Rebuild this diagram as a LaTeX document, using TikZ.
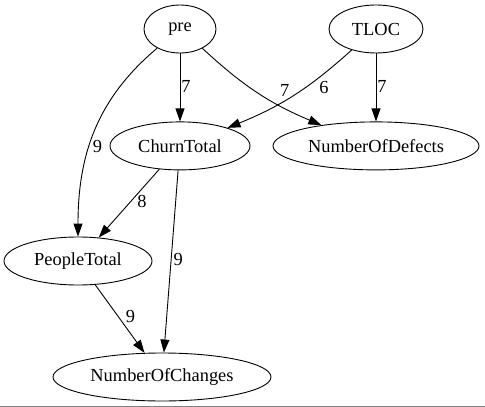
\documentclass[tikz,border=0pt]{standalone}
\usepackage{fontspec}
\setmainfont{Liberation Serif}
\usetikzlibrary{shapes.geometric, positioning, arrows.meta}
\tikzset{
->, % every edge is directed
>={Triangle[length=13pt, width=9pt]}, % filled heads as in the dot output
x=1pt, y=1pt, % coordinates are given in pixels
every node/.style={font=\fontsize{18.4}{22}\selectfont},
var/.style={ellipse, draw, inner sep=0pt, minimum height=48pt}, % one node per variable
lbl/.style={inner sep=1pt}, % the weight written next to an edge
}

\begin{document}
\begin{tikzpicture}[line width=0.9pt]
    \useasboundingbox (0,0) rectangle (485,-407);

    \node[var, minimum width=72pt] (pre) at (180,-29) {pre};
    \node[var, minimum width=94pt] (tloc) at (376,-29) {TLOC};
    \node[var, minimum width=140pt, below=68pt of pre] (churn) {ChurnTotal};
    \node[var, minimum width=206pt, below=68pt of tloc] (defects) {NumberOfDefects};
    \node[var, minimum width=148pt] (people) at (78,-261) {PeopleTotal};
    \node[var, minimum width=218pt] (changes) at (162,-377) {NumberOfChanges};

    \draw
    (pre) edge node[lbl, pos=0.48, right] {7} (churn)
    (pre) edge[bend right=10] node[lbl, pos=0.47, right=24pt] {7} (defects)
    (tloc) edge[bend left=10] node[lbl, pos=0.4, right=13pt] {6} (churn)
    (tloc) edge node[lbl, pos=0.48, right] {7} (defects)
    (pre) edge[out=-140, in=90] node[lbl, pos=0.58, right=2pt] {9} (people)
    (churn) edge node[lbl, pos=0.47, right=5pt] {8} (people)
    (churn) edge node[lbl, pos=0.49, right=1pt] {9} (changes)
    (people) edge node[lbl, pos=0.47, right=6pt] {9} (changes);

    % rule under the graph
    \draw[-, gray] (0,-406) -- (485,-406);
  \end{tikzpicture}
\end{document}
